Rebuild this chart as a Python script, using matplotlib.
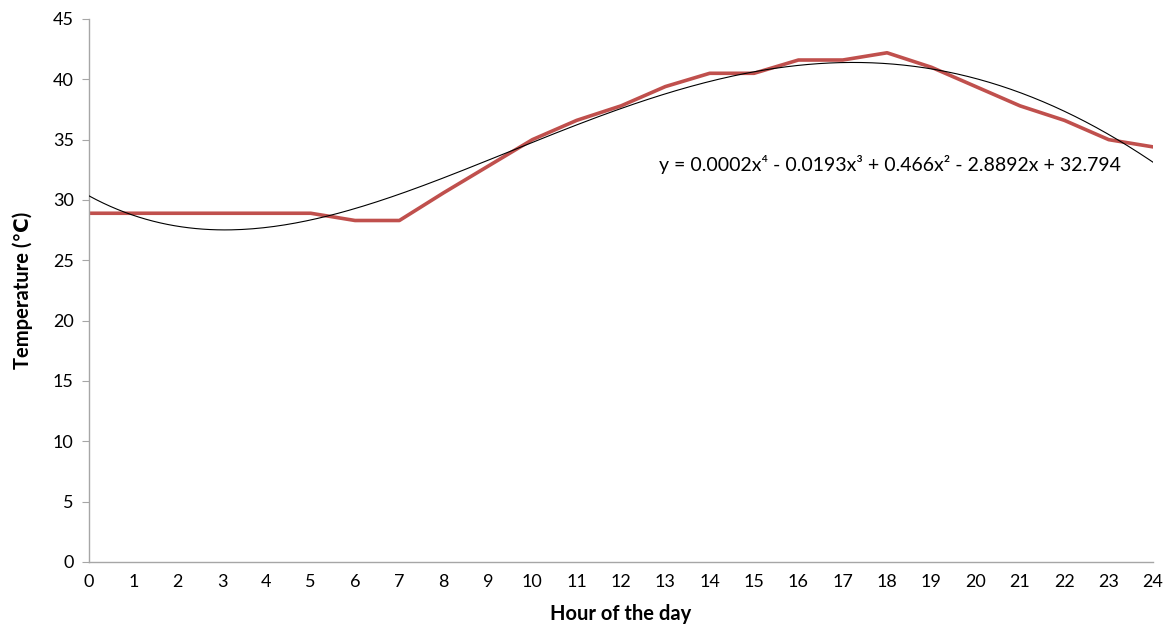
import numpy as np
import matplotlib
matplotlib.use("Agg")
import matplotlib.pyplot as plt

plt.rcParams['font.family'] = ['Lato', 'DejaVu Sans']

hours = list(range(0, 25))
temperature = [28.9, 28.9, 28.9, 28.9, 28.9, 28.9, 28.3, 28.3, 30.6, 32.8,
               35.0, 36.6, 37.8, 39.4, 40.5, 40.5, 41.6, 41.6, 42.2, 41.0,
               39.4, 37.8, 36.6, 35.0, 34.4]
equation_text = "y = 0.0002x\u2074 - 0.0193x\u00b3 + 0.466x\u00b2 - 2.8892x + 32.794"

fig = plt.figure(figsize=(11.73, 6.31), dpi=100)
ax = fig.add_axes([0.0759, 0.1094, 0.9071, 0.8605])

ax.plot(hours, temperature, color='#C0504D', lw=2.6, solid_joinstyle='round', zorder=2)

coef = np.polyfit(hours, temperature, 4)
xs = np.linspace(0, 24, 300)
ax.plot(xs, np.polyval(coef, xs), color='black', lw=0.8, zorder=3)

ax.text(12.85, 32.9, equation_text, fontsize=14, va='center', ha='left', color='black')

ax.set_xlim(0, 24)
ax.set_ylim(0, 45)
ax.set_xticks(range(0, 25))
ax.set_yticks(range(0, 46, 5))
for s in ['top', 'right']:
    ax.spines[s].set_visible(False)
for s in ['left', 'bottom']:
    ax.spines[s].set_color('#A6A6A6')
    ax.spines[s].set_linewidth(1.0)
ax.tick_params(axis='y', length=5, color='#A6A6A6', labelsize=13, pad=6)
ax.tick_params(axis='x', length=0, labelsize=13, pad=9)
ax.set_xlabel("Hour of the day", fontsize=14.5, fontweight='bold', labelpad=10)
ax.set_ylabel("Temperature (\u2103)", fontsize=14.5, fontweight='bold', labelpad=14)

fig.savefig("out.png", dpi=100)
